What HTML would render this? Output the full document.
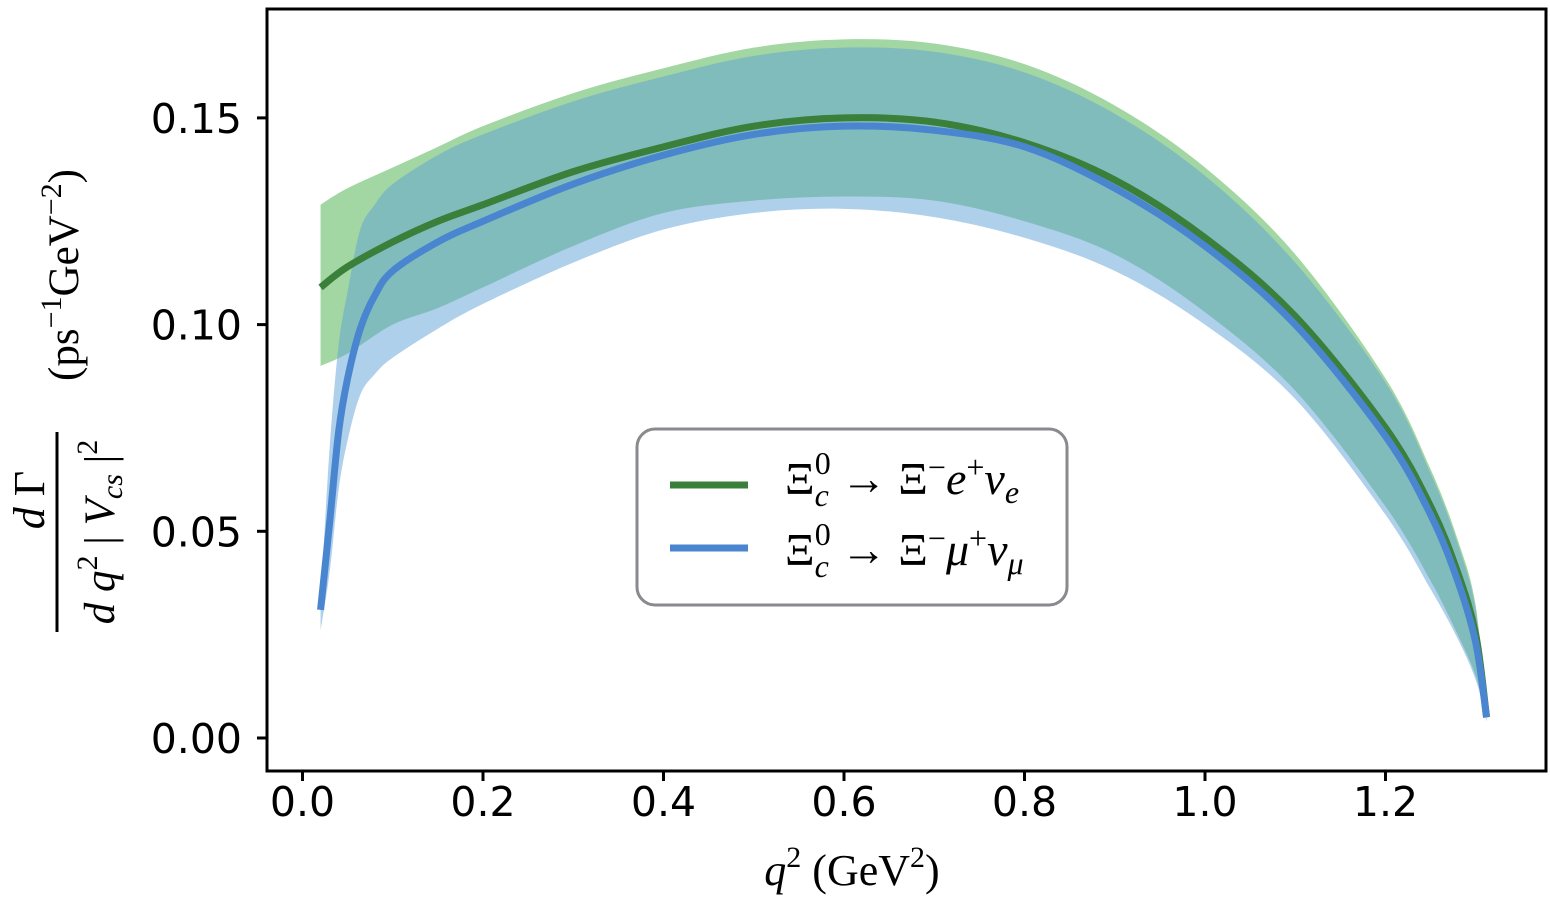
<!DOCTYPE html>
<html><head><meta charset="utf-8"><style>
html,body{margin:0;padding:0;background:#fff;}
svg{display:block;}
.tick{font-family:"DejaVu Sans","Liberation Sans",sans-serif;font-size:41px;fill:#000;}
.math{font-family:"Liberation Serif","DejaVu Serif",serif;fill:#000;}
</style></head><body>
<svg id="chart" width="1550" height="898" viewBox="0 0 1550 898">
<g id="bands"></g><g id="lines"></g>
<rect x="267" y="9" width="1279" height="762" fill="none" stroke="#000" stroke-width="3"/>
<g id="xticks"></g><g id="yticks"></g>
<text class="math" x="852" y="885" font-size="44" text-anchor="middle"><tspan font-style="italic">q</tspan><tspan dy="-18" font-size="30">2</tspan><tspan dy="18"> (GeV</tspan><tspan dy="-18" font-size="30">2</tspan><tspan dy="18">)</tspan></text>
<g>
<text class="math" transform="translate(44,500) rotate(-90)" font-size="44" text-anchor="middle"><tspan font-style="italic">d</tspan> Γ</text>
<line x1="57" y1="432" x2="57" y2="632" stroke="#000" stroke-width="3"/>
<text class="math" transform="translate(114,532) rotate(-90)" font-size="43" text-anchor="middle"><tspan font-style="italic">d q</tspan><tspan dy="-17" font-size="30">2</tspan><tspan dy="17"> | </tspan><tspan font-style="italic">V</tspan><tspan font-style="italic" font-size="30" dy="8">cs</tspan><tspan dy="-8"> |</tspan><tspan dy="-17" font-size="30">2</tspan></text>
<text class="math" transform="translate(78,275) rotate(-90)" font-size="43" text-anchor="middle">(ps<tspan dy="-17" font-size="30">−1</tspan><tspan dy="17">GeV</tspan><tspan dy="-17" font-size="30">−2</tspan><tspan dy="17">)</tspan></text>
</g>
<g>
<rect x="637" y="429" width="430" height="176" rx="18" fill="#fff" fill-opacity="0.85" stroke="#8a8a8e" stroke-width="3"/>
<line x1="670" y1="485" x2="748" y2="485" stroke="#3a7f3a" stroke-width="7"/>
<line x1="670" y1="548" x2="748" y2="548" stroke="#4a86d0" stroke-width="7"/>
<text class="math" x="785" y="494" font-size="46">Ξ<tspan font-style="italic" font-size="32" dy="12">c</tspan><tspan font-size="32" dx="-14" dy="-32">0</tspan><tspan dy="20" dx="10">→ Ξ</tspan><tspan font-size="32" dy="-16">−</tspan><tspan font-style="italic" dy="16">e</tspan><tspan font-size="32" dy="-16">+</tspan><tspan font-style="italic" dy="16">ν</tspan><tspan font-style="italic" font-size="32" dy="9">e</tspan></text>
<text class="math" x="785" y="565" font-size="46">Ξ<tspan font-style="italic" font-size="32" dy="12">c</tspan><tspan font-size="32" dx="-14" dy="-32">0</tspan><tspan dy="20" dx="10">→ Ξ</tspan><tspan font-size="32" dy="-16">−</tspan><tspan font-style="italic" dy="16">μ</tspan><tspan font-size="32" dy="-16">+</tspan><tspan font-style="italic" dy="16">ν</tspan><tspan font-style="italic" font-size="32" dy="9">μ</tspan></text>
</g>
</svg>
<script>
const xTicks=[0.0,0.2,0.4,0.6,0.8,1.0,1.2];
const xTickLabels=["0.0","0.2","0.4","0.6","0.8","1.0","1.2"];
const yTicks=[0.00,0.05,0.10,0.15];
const yTickLabels=["0.00","0.05","0.10","0.15"];
const qGreen=[0.02,0.05,0.1,0.15,0.2,0.3,0.4,0.5,0.6,0.7,0.8,0.9,1.0,1.1,1.2,1.25,1.28,1.3,1.312];
const eCentral=[0.109,0.114,0.120,0.125,0.129,0.137,0.143,0.148,0.150,0.149,0.144,0.135,0.121,0.102,0.075,0.056,0.040,0.025,0.005];
const eUpper=[0.129,0.133,0.138,0.143,0.148,0.156,0.162,0.167,0.169,0.168,0.163,0.153,0.138,0.117,0.087,0.065,0.048,0.032,0.005];
const eLower=[0.090,0.093,0.100,0.104,0.109,0.119,0.127,0.130,0.131,0.130,0.125,0.117,0.103,0.084,0.056,0.038,0.025,0.015,0.005];
const qBlue=[0.02,0.03,0.04,0.05,0.064,0.08,0.1,0.15,0.2,0.3,0.4,0.5,0.6,0.7,0.8,0.9,1.0,1.1,1.2,1.25,1.28,1.3,1.312];
const muCentral=[0.031,0.052,0.074,0.087,0.099,0.107,0.113,0.120,0.125,0.134,0.141,0.146,0.148,0.147,0.143,0.133,0.119,0.100,0.073,0.054,0.038,0.023,0.005];
const muUpper=[0.033,0.070,0.095,0.108,0.123,0.129,0.134,0.141,0.146,0.154,0.160,0.165,0.167,0.166,0.161,0.151,0.136,0.115,0.086,0.064,0.047,0.031,0.005];
const muLower=[0.026,0.040,0.060,0.072,0.083,0.088,0.092,0.099,0.105,0.115,0.123,0.127,0.128,0.126,0.121,0.113,0.100,0.082,0.054,0.036,0.024,0.014,0.004];

const NS="http://www.w3.org/2000/svg";
const X=v=>302.5+v*902.5;
const Y=v=>738-v*4134;
function pts(xs,ys){return xs.map((x,i)=>[X(x),Y(ys[i])]);}
function smooth(p){let d="M"+p[0][0]+","+p[0][1];for(let i=0;i<p.length-1;i++){const p0=p[i-1]||p[i],p1=p[i],p2=p[i+1],p3=p[i+2]||p2;
d+=" C"+(p1[0]+(p2[0]-p0[0])/6)+","+(p1[1]+(p2[1]-p0[1])/6)+" "+(p2[0]-(p3[0]-p1[0])/6)+","+(p2[1]-(p3[1]-p1[1])/6)+" "+p2[0]+","+p2[1];}return d;}
function band(xs,up,lo,fill,name){const a=pts(xs,up),b=pts(xs,lo).reverse();
const d=smooth(a)+" L"+smooth(b).slice(1)+" Z";
const el=document.createElementNS(NS,"path");el.setAttribute("d",d);el.setAttribute("fill",fill);


document.getElementById("bands").appendChild(el);}
function line(xs,ys,col,name){const el=document.createElementNS(NS,"path");el.setAttribute("d",smooth(pts(xs,ys)));
el.setAttribute("fill","none");el.setAttribute("stroke",col);el.setAttribute("stroke-width","7");


document.getElementById("lines").appendChild(el);}
band(qGreen,eUpper,eLower,"rgba(60,170,60,0.48)","electron-band");
band(qBlue,muUpper,muLower,"rgba(95,162,215,0.5)","muon-band");
line(qGreen,eCentral,"#3a7f3a","electron-line");
line(qBlue,muCentral,"#4a86d0","muon-line");
const xg=document.getElementById("xticks");
xTicks.forEach((v,i)=>{const l=document.createElementNS(NS,"line");l.setAttribute("x1",X(v));l.setAttribute("x2",X(v));l.setAttribute("y1",771);l.setAttribute("y2",781);l.setAttribute("stroke","#000");l.setAttribute("stroke-width","3");


xg.appendChild(l);
const t=document.createElementNS(NS,"text");t.setAttribute("x",X(v));t.setAttribute("y",816);t.setAttribute("text-anchor","middle");t.setAttribute("class","tick");t.textContent=xTickLabels[i];


xg.appendChild(t);});
const yg=document.getElementById("yticks");
yTicks.forEach((v,i)=>{const l=document.createElementNS(NS,"line");l.setAttribute("x1",257);l.setAttribute("x2",267);l.setAttribute("y1",Y(v));l.setAttribute("y2",Y(v));l.setAttribute("stroke","#000");l.setAttribute("stroke-width","3");


yg.appendChild(l);
const t=document.createElementNS(NS,"text");t.setAttribute("x",242);t.setAttribute("y",Y(v)+15);t.setAttribute("text-anchor","end");t.setAttribute("class","tick");t.textContent=yTickLabels[i];


yg.appendChild(t);});
</script>
</body></html>
